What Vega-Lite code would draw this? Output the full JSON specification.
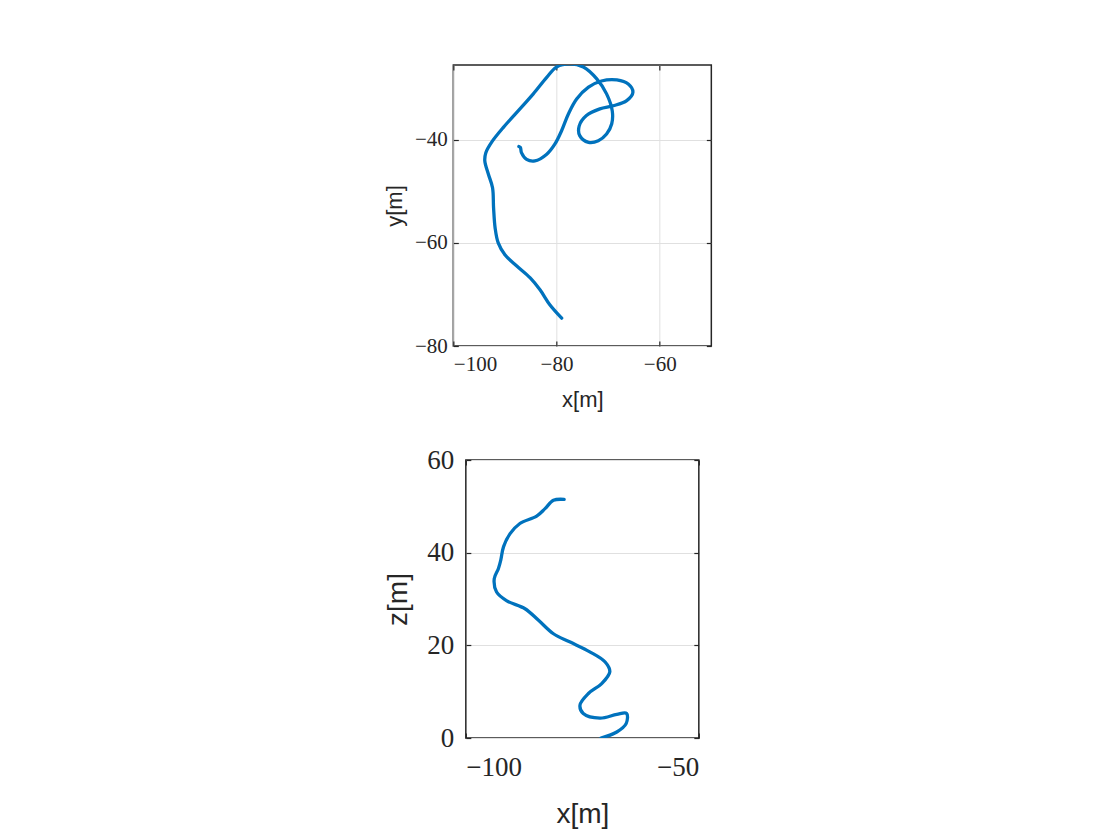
{
  "$schema": "https://vega.github.io/schema/vega-lite/v6.json",
  "background": "white",
  "padding": {"left": 382, "top": 63, "right": 10, "bottom": 5},
  "spacing": 34,
  "center": true,
  "config": {
    "view": {"stroke": "#262626", "strokeWidth": 1.5},
    "axis": {
      "domain": false,
      "labelFont": "Liberation Serif",
      "titleFont": "Liberation Sans",
      "titleFontWeight": "normal",
      "labelColor": "#262626",
      "titleColor": "#262626",
      "tickColor": "#262626",
      "gridColor": "#e0e0e0",
      "gridWidth": 1,
      "tickWidth": 1.2
    }
  },
  "datasets": {
    "xy": [
      {"i": 1, "x": -79.0, "y": -74.6},
      {"i": 2, "x": -81.3, "y": -72.0},
      {"i": 3, "x": -83.2, "y": -69.1},
      {"i": 4, "x": -85.1, "y": -66.8},
      {"i": 5, "x": -87.7, "y": -64.5},
      {"i": 6, "x": -90.0, "y": -62.3},
      {"i": 7, "x": -91.3, "y": -60.0},
      {"i": 8, "x": -91.9, "y": -57.1},
      {"i": 9, "x": -92.2, "y": -53.2},
      {"i": 10, "x": -92.4, "y": -49.3},
      {"i": 11, "x": -93.2, "y": -46.7},
      {"i": 12, "x": -93.9, "y": -44.1},
      {"i": 13, "x": -93.7, "y": -42.5},
      {"i": 14, "x": -92.6, "y": -40.5},
      {"i": 15, "x": -90.3, "y": -37.6},
      {"i": 16, "x": -87.7, "y": -34.7},
      {"i": 17, "x": -84.5, "y": -31.1},
      {"i": 18, "x": -81.9, "y": -27.9},
      {"i": 19, "x": -80.0, "y": -25.9},
      {"i": 20, "x": -77.4, "y": -25.3},
      {"i": 21, "x": -74.8, "y": -25.9},
      {"i": 22, "x": -72.2, "y": -28.2},
      {"i": 23, "x": -70.3, "y": -31.1},
      {"i": 24, "x": -69.2, "y": -34.4},
      {"i": 25, "x": -69.3, "y": -36.9},
      {"i": 26, "x": -70.3, "y": -38.9},
      {"i": 27, "x": -71.9, "y": -40.2},
      {"i": 28, "x": -73.8, "y": -40.5},
      {"i": 29, "x": -75.5, "y": -39.2},
      {"i": 30, "x": -75.6, "y": -37.3},
      {"i": 31, "x": -74.2, "y": -35.3},
      {"i": 32, "x": -71.6, "y": -34.0},
      {"i": 33, "x": -69.0, "y": -33.4},
      {"i": 34, "x": -66.4, "y": -32.4},
      {"i": 35, "x": -65.2, "y": -30.8},
      {"i": 36, "x": -66.1, "y": -29.2},
      {"i": 37, "x": -68.3, "y": -28.4},
      {"i": 38, "x": -71.3, "y": -28.6},
      {"i": 39, "x": -73.8, "y": -29.8},
      {"i": 40, "x": -76.1, "y": -32.1},
      {"i": 41, "x": -77.7, "y": -35.0},
      {"i": 42, "x": -79.0, "y": -38.2},
      {"i": 43, "x": -80.3, "y": -40.8},
      {"i": 44, "x": -81.9, "y": -42.8},
      {"i": 45, "x": -84.2, "y": -44.1},
      {"i": 46, "x": -85.8, "y": -43.8},
      {"i": 47, "x": -86.8, "y": -42.5},
      {"i": 48, "x": -87.0, "y": -41.5},
      {"i": 49, "x": -87.3, "y": -41.3}
    ],
    "xz": [
      {"i": 1, "x": -78.9, "z": 51.5},
      {"i": 2, "x": -81.2, "z": 51.3},
      {"i": 3, "x": -83.0, "z": 49.5},
      {"i": 4, "x": -84.8, "z": 47.9},
      {"i": 5, "x": -88.4, "z": 46.3},
      {"i": 6, "x": -90.5, "z": 44.1},
      {"i": 7, "x": -91.9, "z": 41.3},
      {"i": 8, "x": -92.5, "z": 38.4},
      {"i": 9, "x": -93.0, "z": 36.6},
      {"i": 10, "x": -93.9, "z": 34.4},
      {"i": 11, "x": -93.4, "z": 31.5},
      {"i": 12, "x": -91.2, "z": 29.6},
      {"i": 13, "x": -87.3, "z": 27.9},
      {"i": 14, "x": -84.4, "z": 25.4},
      {"i": 15, "x": -81.2, "z": 22.5},
      {"i": 16, "x": -77.6, "z": 20.7},
      {"i": 17, "x": -73.4, "z": 18.6},
      {"i": 18, "x": -70.1, "z": 16.4},
      {"i": 19, "x": -69.1, "z": 14.3},
      {"i": 20, "x": -70.9, "z": 11.7},
      {"i": 21, "x": -73.7, "z": 9.6},
      {"i": 22, "x": -75.5, "z": 7.1},
      {"i": 23, "x": -74.8, "z": 5.3},
      {"i": 24, "x": -71.2, "z": 4.3},
      {"i": 25, "x": -67.6, "z": 5.1},
      {"i": 26, "x": -65.5, "z": 5.3},
      {"i": 27, "x": -65.6, "z": 3.1},
      {"i": 28, "x": -67.6, "z": 1.3},
      {"i": 29, "x": -71.0, "z": 0.0}
    ]
  },
  "vconcat": [
    {
      "width": 258,
      "height": 281,
      "data": {"name": "xy"},
      "layer": [
        {
          "mark": {"type": "line", "color": "#0072BD", "strokeWidth": 3.3, "strokeCap": "round", "strokeJoin": "round", "interpolate": "catmull-rom", "clip": true},
          "encoding": {
            "x": {"field": "x", "type": "quantitative",
              "scale": {"domain": [-100, -50], "nice": false, "zero": false},
              "axis": {"orient": "bottom", "values": [-100, -80, -60], "title": "x[m]", "labelFontSize": 21, "titleFontSize": 22, "tickSize": -5, "labelPadding": 12, "titlePadding": 15, "grid": true}},
            "y": {"field": "y", "type": "quantitative",
              "scale": {"domain": [-80, -25.5], "nice": false, "zero": false},
              "axis": {"orient": "left", "values": [-80, -60, -40], "title": "y[m]", "labelFontSize": 21, "titleFontSize": 22, "tickSize": -5, "labelPadding": 11, "titlePadding": 8, "grid": true}},
            "order": {"field": "i", "type": "quantitative"}
          }
        },
        {
          "mark": {"type": "line", "opacity": 0},
          "encoding": {
            "x": {"field": "x", "type": "quantitative",
              "axis": {"orient": "top", "values": [-100, -80, -60], "title": null, "labels": false, "tickSize": -5, "grid": false}},
            "y": {"field": "y", "type": "quantitative",
              "axis": {"orient": "right", "values": [-80, -60, -40], "title": null, "labels": false, "tickSize": -5, "grid": false}},
            "order": {"field": "i", "type": "quantitative"}
          }
        }
      ],
      "resolve": {"axis": {"x": "independent", "y": "independent"}}
    },
    {
      "width": 233,
      "height": 278,
      "data": {"name": "xz"},
      "layer": [
        {
          "mark": {"type": "line", "color": "#0072BD", "strokeWidth": 3.3, "strokeCap": "round", "strokeJoin": "round", "interpolate": "catmull-rom", "clip": true},
          "encoding": {
            "x": {"field": "x", "type": "quantitative",
              "scale": {"domain": [-100, -50], "nice": false, "zero": false},
              "axis": {"orient": "bottom", "values": [-100, -50], "title": "x[m]", "labelFontSize": 27, "titleFontSize": 28, "tickSize": -5, "labelPadding": 21, "titlePadding": 20, "grid": false}},
            "y": {"field": "z", "type": "quantitative",
              "scale": {"domain": [0, 60], "nice": false, "zero": false},
              "axis": {"orient": "left", "values": [0, 20, 40, 60], "title": "z[m]", "labelFontSize": 27, "titleFontSize": 28, "tickSize": -5, "labelPadding": 17, "titlePadding": 14, "grid": true}},
            "order": {"field": "i", "type": "quantitative"}
          }
        },
        {
          "mark": {"type": "line", "opacity": 0},
          "encoding": {
            "x": {"field": "x", "type": "quantitative",
              "axis": {"orient": "top", "values": [-100, -50], "title": null, "labels": false, "tickSize": -5, "grid": false}},
            "y": {"field": "z", "type": "quantitative",
              "axis": {"orient": "right", "values": [0, 20, 40, 60], "title": null, "labels": false, "tickSize": -5, "grid": false}},
            "order": {"field": "i", "type": "quantitative"}
          }
        }
      ],
      "resolve": {"axis": {"x": "independent", "y": "independent"}}
    }
  ]
}
